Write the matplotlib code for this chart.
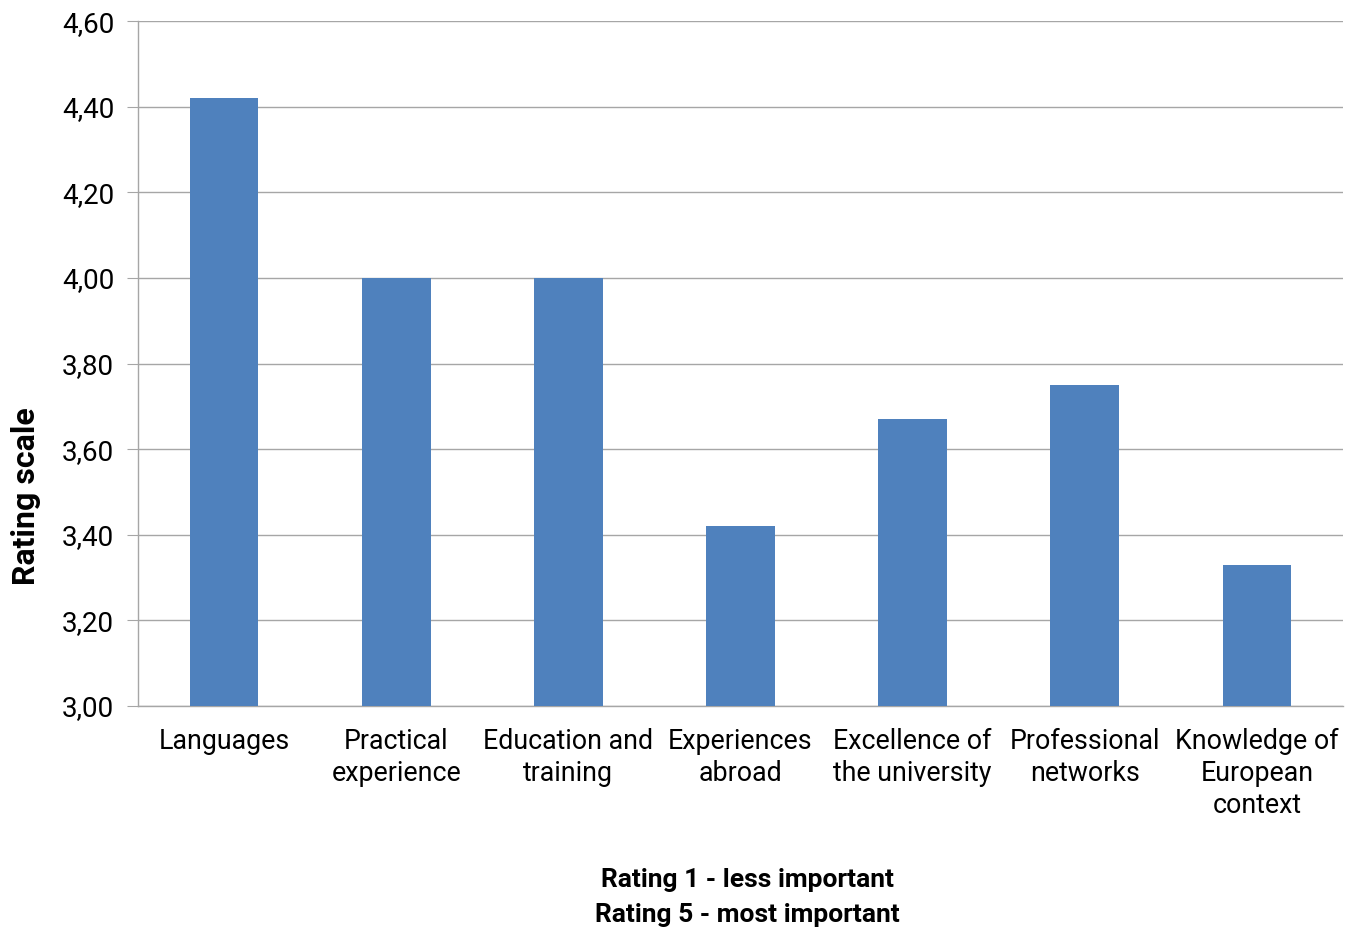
import matplotlib
matplotlib.use("Agg")
import matplotlib.pyplot as plt
from matplotlib.ticker import FuncFormatter, MultipleLocator

plt.rcParams['font.family'] = ['Roboto', 'DejaVu Sans']

categories = ["Languages", "Practical\nexperience", "Education and\ntraining",
              "Experiences\nabroad", "Excellence of\nthe university",
              "Professional\nnetworks", "Knowledge of\nEuropean\ncontext"]
ratings = [4.42, 4.00, 4.00, 3.42, 3.67, 3.75, 3.33]

fig = plt.figure(figsize=(13.54, 9.31), dpi=100)
ax = fig.add_axes([0.1019, 0.2417, 0.8900, 0.7357])

x = range(len(categories))
ax.bar(x, ratings, width=0.4, color="#4F81BD", zorder=3)

ax.set_xlim(-0.5, len(categories) - 0.5)
ax.set_ylim(3.0, 4.6)
ax.yaxis.set_major_locator(MultipleLocator(0.2))
ax.yaxis.set_major_formatter(FuncFormatter(lambda v, p: f"{v:.2f}".replace(".", ",")))
ax.grid(axis="y", color="#A6A6A6", linewidth=1.0, zorder=0)

for s in ["top", "right"]:
    ax.spines[s].set_visible(False)
for s in ["left", "bottom"]:
    ax.spines[s].set_color("#A6A6A6")
    ax.spines[s].set_linewidth(1.0)

ax.tick_params(axis="y", length=8, color="#A6A6A6", labelsize=20, pad=9)
ax.tick_params(axis="x", length=0, labelsize=19.3, pad=16)
ax.set_xticks(list(x))
ax.set_xticklabels(categories, linespacing=1.24)

fig.text(0.0195, 0.467, "Rating scale", rotation=90, ha="center", va="center",
         fontsize=23, fontweight="bold")
fig.text(0.552, 0.036, "Rating 1 - less important\nRating 5 - most important",
         ha="center", va="center", fontsize=19, fontweight="bold", linespacing=1.6)

fig.savefig("out.png", dpi=100)
